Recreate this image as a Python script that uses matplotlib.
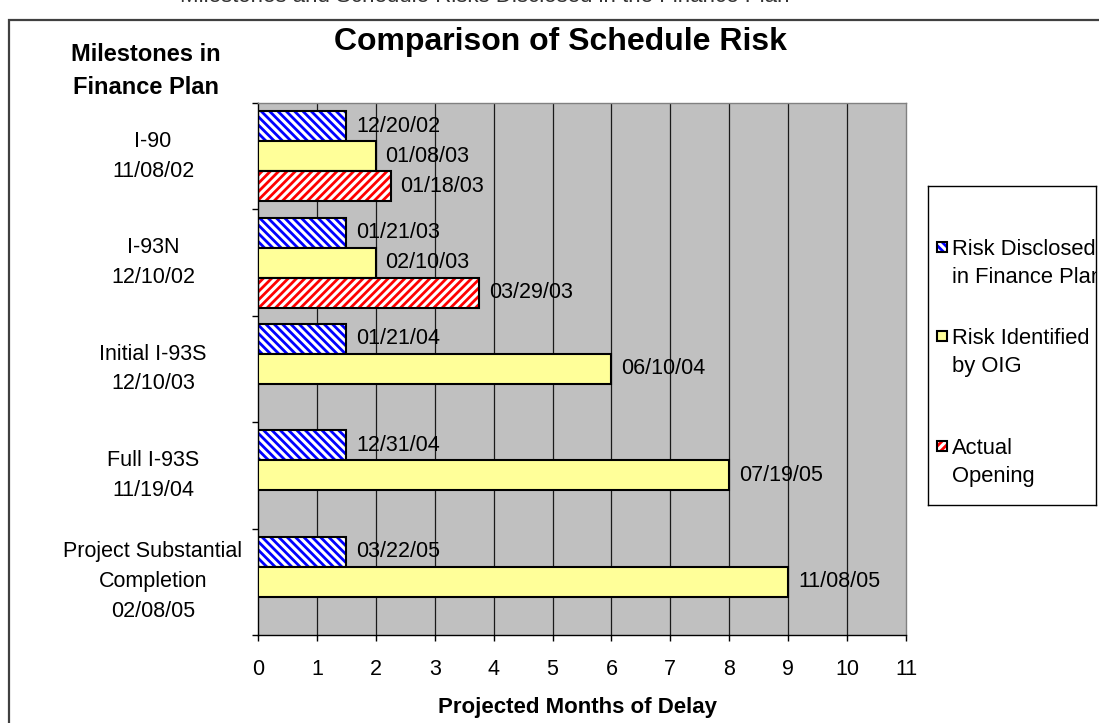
import matplotlib
matplotlib.use("Agg")
import matplotlib.pyplot as plt
import matplotlib.transforms as mtransforms
from matplotlib.patches import Rectangle

plt.rcParams["font.family"] = ["Liberation Sans", "DejaVu Sans"]
plt.rcParams["hatch.linewidth"] = 2.0

# ---- data -------------------------------------------------------------
milestones = [
    "I-90\n11/08/02",
    "I-93N\n12/10/02",
    "Initial I-93S\n12/10/03",
    "Full I-93S\n11/19/04",
    "Project Substantial\nCompletion\n02/08/05",
]
disclosed = [1.5, 1.5, 1.5, 1.5, 1.5]
disclosed_dates = ["12/20/02", "01/21/03", "01/21/04", "12/31/04", "03/22/05"]
oig = [2.0, 2.0, 6.0, 8.0, 9.0]
oig_dates = ["01/08/03", "02/10/03", "06/10/04", "07/19/05", "11/08/05"]
actual = [2.25, 3.75, None, None, None]
actual_dates = ["01/18/03", "03/29/03", None, None, None]
month_ticks = list(range(0, 12))
series_names = ["Risk Disclosed\nin Finance Plan", "Risk Identified\nby OIG", "Actual\nOpening"]

BLUE = "#0000FF"
YELLOW = "#FFFF99"
RED = "#FF0000"
GRAY = "#C0C0C0"
BLUE_HATCH = "\\\\\\\\"
RED_HATCH = "////"

W, H = 1099, 723
fig = plt.figure(figsize=(W / 100, H / 100), dpi=100)

# outer frame of the exhibit (runs off the right and bottom edges)
fig.add_artist(Rectangle((9 / W, -0.5), 2.0, (1 - 20 / H) + 0.5,
                         transform=fig.transFigure, fill=False,
                         lw=1.6, ec="#404040"))

# caption line sitting above the frame
fig.text(485 / W, 1 - 1.5 / H,
         "Milestones and Schedule Risks Disclosed in the Finance Plan",
         fontsize=16, ha="center", va="baseline", color="#333333")

ax = fig.add_axes([258 / W, 1 - 635 / H, 648 / W, 532 / H])
ax.set_facecolor(GRAY)
ax.set_xlim(0, 11)
ax.set_ylim(len(milestones), 0)
ax.set_xticks(month_ticks)
ax.set_yticks(range(len(milestones) + 1))
ax.set_yticklabels([])
ax.tick_params(axis="x", direction="out", length=4.5, width=1, pad=13,
               labelsize=15.5, color="black")
ax.tick_params(axis="y", direction="out", length=4, width=1, color="black")
for s in ("top", "right"):
    ax.spines[s].set_color("#808080")
    ax.spines[s].set_linewidth(1)
for s in ("left", "bottom"):
    ax.spines[s].set_color("black")
    ax.spines[s].set_linewidth(1)
for x in month_ticks[1:-1]:
    ax.axvline(x, color="#1a1a1a", lw=0.9, zorder=1)

bar_h = 0.282


def hatched_bar(y, v, color, hatch):
    ax.barh(y, v, height=bar_h, color="white", edgecolor=color,
            hatch=hatch, linewidth=0, zorder=2)
    ax.barh(y, v, height=bar_h, color="none", edgecolor="black",
            linewidth=1.5, zorder=3)


def value_label(y, v, text):
    ax.annotate(text, xy=(v, y), xytext=(7, 0), textcoords="offset points",
                ha="left", va="center", fontsize=15.5, zorder=4)


for i in range(len(milestones)):
    c = i + 0.5
    hatched_bar(c - bar_h, disclosed[i], BLUE, BLUE_HATCH)
    value_label(c - bar_h, disclosed[i], disclosed_dates[i])
    ax.barh(c, oig[i], height=bar_h, color=YELLOW, edgecolor="black",
            linewidth=1.5, zorder=3)
    value_label(c, oig[i], oig_dates[i])
    if actual[i] is not None:
        hatched_bar(c + bar_h, actual[i], RED, RED_HATCH)
        value_label(c + bar_h, actual[i], actual_dates[i])

# milestone names to the left of the axis
trans = mtransforms.blended_transform_factory(fig.transFigure, ax.transData)
for i, name in enumerate(milestones):
    ax.text(153 / W, i + 0.5, name, transform=trans, ha="center",
            va="center", fontsize=15.5, linespacing=1.55)

fig.text(560 / W, 1 - 42 / H, "Comparison of Schedule Risk",
         fontsize=23, weight="bold", ha="center", va="center")
fig.text(146 / W, 1 - 71 / H, "Milestones in\nFinance Plan",
         fontsize=17, weight="bold", ha="center", va="center",
         linespacing=1.55)
fig.text(578 / W, 1 - 707 / H, "Projected Months of Delay",
         fontsize=16, weight="bold", ha="center", va="center")

# legend panel (text clipped at its right border)
lg = fig.add_axes([928 / W, 1 - 505 / H, 168 / W, 319 / H])
lg.set_xlim(928, 1096)
lg.set_ylim(505, 186)
lg.set_xticks([])
lg.set_yticks([])
lg.set_facecolor("white")
for s in lg.spines.values():
    s.set_color("black")
    s.set_linewidth(1)

legend_rows = [247, 336, 446]
swatches = [("white", BLUE, BLUE_HATCH), (YELLOW, "black", None), ("white", RED, RED_HATCH)]
for (fc, hc, hatch), name, yy in zip(swatches, series_names, legend_rows):
    if hatch:
        lg.add_patch(Rectangle((937, yy - 5), 10, 10, facecolor=fc,
                               edgecolor=hc, hatch=hatch, lw=0))
    else:
        lg.add_patch(Rectangle((937, yy - 5), 10, 10, facecolor=fc, lw=0))
    lg.add_patch(Rectangle((937, yy - 5), 10, 10, facecolor="none",
                           edgecolor="black", lw=1.5))
    lg.text(952, yy + 3, name, ha="left", va="top", fontsize=15.8,
            linespacing=1.45, clip_on=True,
            transform=lg.transData + mtransforms.ScaledTranslation(0, 0.11, fig.dpi_scale_trans))

fig.savefig("out.png", dpi=100)
